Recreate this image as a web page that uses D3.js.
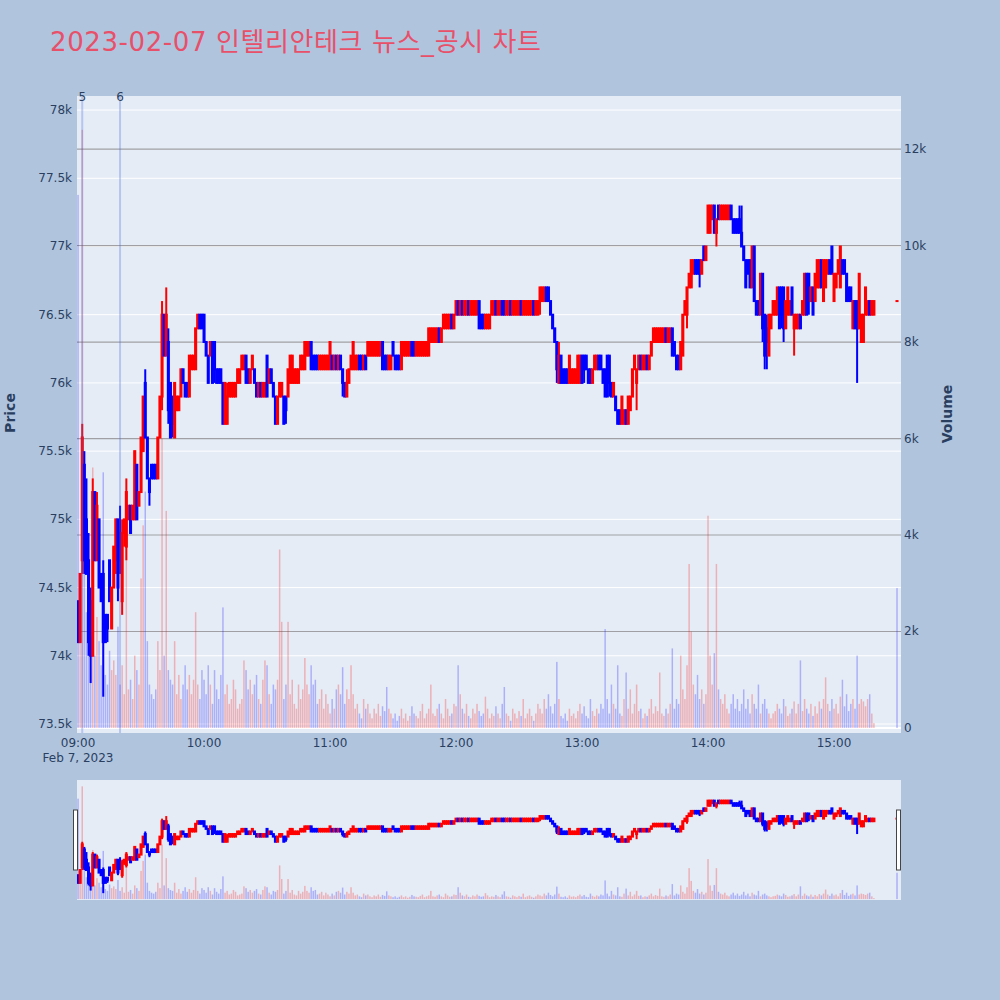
<!DOCTYPE html>
<html><head><meta charset="utf-8">
<script src="https://cdn.jsdelivr.net/npm/d3@7"></script>
<style>
body{margin:0;background:#B0C4DE;}
text{font-family:"DejaVu Sans","Noto Sans CJK KR",sans-serif;}
</style></head>
<body><svg id="chart" width="1000" height="1000"></svg>
<script>
const titleText = "2023-02-07 인텔리안테크 뉴스_공시 차트";
const dateLabel = "Feb 7, 2023";
const priceTicks = [73500,74000,74500,75000,75500,76000,76500,77000,77500,78000];
const volumeTicks = [0,2000,4000,6000,8000,10000,12000];
const hourTicks = ["09:00","10:00","11:00","12:00","13:00","14:00","15:00"];
const newsTimes = ["09:02","09:20"];
const newsLabels = ["5","6"];

const times = [
"09:00","09:01","09:02","09:03","09:04","09:05","09:06","09:07","09:08","09:09","09:10","09:11","09:12","09:13","09:14","09:15","09:16","09:17","09:18","09:19","09:20","09:21","09:22","09:23","09:24","09:25","09:26","09:27","09:28","09:29","09:30","09:31","09:32","09:33","09:34","09:35","09:36","09:37","09:38","09:39","09:40","09:41","09:42","09:43","09:44","09:45","09:46","09:47","09:48","09:49","09:50","09:51","09:52","09:53","09:54","09:55","09:56","09:57","09:58","09:59",
"10:00","10:01","10:02","10:03","10:04","10:05","10:06","10:07","10:08","10:09","10:10","10:11","10:12","10:13","10:14","10:15","10:16","10:17","10:18","10:19","10:20","10:21","10:22","10:23","10:24","10:25","10:26","10:27","10:28","10:29","10:30","10:31","10:32","10:33","10:34","10:35","10:36","10:37","10:38","10:39","10:40","10:41","10:42","10:43","10:44","10:45","10:46","10:47","10:48","10:49","10:50","10:51","10:52","10:53","10:54","10:55","10:56","10:57","10:58","10:59",
"11:00","11:01","11:02","11:03","11:04","11:05","11:06","11:07","11:08","11:09","11:10","11:11","11:12","11:13","11:14","11:15","11:16","11:17","11:18","11:19","11:20","11:21","11:22","11:23","11:24","11:25","11:26","11:27","11:28","11:29","11:30","11:31","11:32","11:33","11:34","11:35","11:36","11:37","11:38","11:39","11:40","11:41","11:42","11:43","11:44","11:45","11:46","11:47","11:48","11:49","11:50","11:51","11:52","11:53","11:54","11:55","11:56","11:57","11:58","11:59",
"12:00","12:01","12:02","12:03","12:04","12:05","12:06","12:07","12:08","12:09","12:10","12:11","12:12","12:13","12:14","12:15","12:16","12:17","12:18","12:19","12:20","12:21","12:22","12:23","12:24","12:25","12:26","12:27","12:28","12:29","12:30","12:31","12:32","12:33","12:34","12:35","12:36","12:37","12:38","12:39","12:40","12:41","12:42","12:43","12:44","12:45","12:46","12:47","12:48","12:49","12:50","12:51","12:52","12:53","12:54","12:55","12:56","12:57","12:58","12:59",
"13:00","13:01","13:02","13:03","13:04","13:05","13:06","13:07","13:08","13:09","13:10","13:11","13:12","13:13","13:14","13:15","13:16","13:17","13:18","13:19","13:20","13:21","13:22","13:23","13:24","13:25","13:26","13:27","13:28","13:29","13:30","13:31","13:32","13:33","13:34","13:35","13:36","13:37","13:38","13:39","13:40","13:41","13:42","13:43","13:44","13:45","13:46","13:47","13:48","13:49","13:50","13:51","13:52","13:53","13:54","13:55","13:56","13:57","13:58","13:59",
"14:00","14:01","14:02","14:03","14:04","14:05","14:06","14:07","14:08","14:09","14:10","14:11","14:12","14:13","14:14","14:15","14:16","14:17","14:18","14:19","14:20","14:21","14:22","14:23","14:24","14:25","14:26","14:27","14:28","14:29","14:30","14:31","14:32","14:33","14:34","14:35","14:36","14:37","14:38","14:39","14:40","14:41","14:42","14:43","14:44","14:45","14:46","14:47","14:48","14:49","14:50","14:51","14:52","14:53","14:54","14:55","14:56","14:57","14:58","14:59",
"15:00","15:01","15:02","15:03","15:04","15:05","15:06","15:07","15:08","15:09","15:10","15:11","15:12","15:13","15:14","15:15","15:16","15:17","15:18","15:19","15:30"];

const open = [
74400,74100,74700,75400,75000,74700,74400,74000,75200,74700, 75000,74600,74600,74300,74300,74700,74200,74500,74700,75000,
74900,74400,74900,74800,75000,75100,75000,75000,75400,75100, 75200,75500,76000,75600,75300,75400,75400,75400,75300,75600,
75900,76500,76200,76300,76000,75900,75600,75800,75800,75900, 76100,76000,76000,75900,76100,76100,76100,76400,76500,76500,
76500,76300,76200,76200,76300,76300,76100,76100,76100,76000, 75700,75700,75900,75900,75900,75900,76000,76000,76100,76100,
76200,76100,76000,76100,76100,76000,75900,76000,75900,75900, 76200,76000,76100,76000,75900,75700,75900,75900,75900,75900,
75900,76000,76000,76000,76000,76000,76100,76100,76100,76200, 76200,76300,76200,76200,76200,76100,76100,76100,76100,76100,
76100,76200,76100,76200,76100,76200,76100,76000,75900,76000, 76100,76100,76100,76100,76200,76200,76100,76200,76200,76200,
76200,76200,76200,76200,76200,76300,76200,76200,76100,76100, 76300,76200,76200,76200,76100,76200,76200,76200,76200,76300,
76300,76200,76200,76200,76200,76200,76200,76200,76300,76300, 76300,76300,76400,76300,76400,76400,76400,76400,76500,76400,
76500,76600,76500,76600,76500,76500,76600,76500,76500,76500, 76500,76600,76500,76500,76400,76400,76400,76500,76500,76600,
76500,76500,76600,76600,76500,76500,76600,76500,76500,76500, 76500,76600,76500,76500,76500,76500,76500,76600,76500,76500,
76600,76600,76600,76700,76700,76600,76500,76400,76300,76000, 76200,76100,76100,76100,76000,76000,76000,76000,76000,76000,
76200,76200,76200,76100,76100,76000,76100,76100,76200,76200, 76100,76100,76200,76200,76000,75900,75900,75800,75800,75700,
75700,75800,75700,75800,75900,76100,76000,76100,76200,76100, 76100,76200,76100,76200,76300,76300,76300,76300,76300,76300,
76400,76300,76300,76400,76300,76200,76200,76100,76200,76500, 76500,76700,76700,76800,76900,76900,76900,76800,77000,76900,
77100,77100,77200,77300,77100,77300,77200,77200,77200,77200, 77200,77300,77200,77200,77200,77200,77100,77000,76900,76900,
76900,76700,77000,76600,76600,76500,76800,76500,76400,76200, 76400,76500,76500,76500,76700,76700,76700,76400,76500,76500,
76700,76400,76400,76400,76500,76500,76500,76800,76800,76600, 76700,76600,76700,76700,76900,76600,76700,76800,76900,77000,
76600,76700,76800,76700,76900,76900,76800,76700,76700,76400, 76600,76600,76400,76300,76300,76500,76500,76600,76500,76500,
76600];

const high = [
74400,74600,75700,75500,75300,74900,74500,75300,75200,75200, 75000,74600,74700,74300,74300,74700,74500,74800,75000,75000,
75100,75000,75000,75300,75100,75100,75100,75500,75400,75200, 75600,75900,76100,75600,75300,75400,75400,75400,75600,75900,
76600,76500,76700,76400,76000,75900,76000,75900,75900,76100, 76100,76000,76000,76200,76200,76200,76400,76500,76500,76500,
76500,76300,76200,76300,76300,76300,76100,76100,76100,76000, 76000,76000,76000,76000,76000,76000,76100,76100,76200,76200,
76200,76100,76100,76200,76100,76000,76000,76000,76000,76000, 76200,76100,76100,76000,75900,75900,76000,76000,75900,75900,
76100,76200,76200,76100,76100,76100,76200,76200,76300,76300, 76300,76300,76200,76200,76200,76200,76200,76200,76200,76200,
76300,76200,76200,76200,76200,76200,76100,76000,76100,76100, 76200,76300,76200,76200,76200,76200,76200,76200,76300,76300,
76300,76300,76300,76300,76300,76300,76200,76200,76200,76200, 76300,76200,76200,76200,76300,76300,76300,76300,76300,76300,
76300,76300,76300,76300,76300,76300,76300,76400,76400,76400, 76400,76400,76400,76400,76500,76500,76500,76500,76500,76500,
76600,76600,76600,76600,76600,76600,76600,76600,76600,76600, 76600,76600,76500,76500,76500,76500,76500,76600,76600,76600,
76600,76600,76600,76600,76600,76600,76600,76600,76600,76600, 76600,76600,76600,76600,76600,76600,76600,76600,76600,76600,
76700,76700,76700,76700,76700,76600,76500,76400,76300,76300, 76200,76100,76100,76100,76200,76100,76100,76100,76200,76200,
76200,76200,76200,76100,76100,76100,76200,76200,76200,76200, 76100,76100,76200,76200,76000,76000,75900,75800,75800,75900,
75800,75800,75900,75900,76100,76200,76100,76200,76200,76200, 76200,76200,76200,76300,76400,76400,76400,76400,76400,76400,
76400,76400,76400,76400,76300,76200,76200,76300,76500,76600, 76700,76800,76900,76900,76900,76900,76900,76900,77000,77000,
77300,77300,77300,77300,77200,77300,77300,77300,77300,77300, 77300,77300,77200,77200,77200,77300,77300,77000,76900,76900,
76900,77000,77000,76600,76600,76800,76800,76500,76500,76500, 76500,76600,76600,76700,76700,76700,76700,76600,76700,76600,
76700,76500,76500,76500,76500,76600,76800,76800,76800,76700, 76700,76800,76900,76900,76900,76900,76900,76900,76900,77000,
76800,76800,76900,77000,76900,76900,76800,76700,76700,76600, 76600,76600,76800,76500,76500,76700,76600,76600,76600,76600,
76600];

const low = [
74100,74100,74600,74600,74600,74000,73800,74000,74700,74700, 74500,74400,73700,74100,74100,74400,74200,74500,74600,74400,
74600,74300,74800,74700,75000,74900,75000,75000,75000,75100, 75200,75500,75600,75300,75100,75300,75300,75300,75300,75600,
75800,76200,76200,75700,75600,75600,75600,75800,75800,75900, 76000,75900,75900,75900,76100,76100,76100,76400,76400,76400,
76300,76200,76000,76200,76000,76000,76000,76000,76000,75700, 75700,75700,75900,75900,75900,75900,76000,76000,76100,76100,
76000,76000,76000,76100,76000,75900,75900,75900,75900,75900, 75900,76000,76000,75900,75700,75700,75900,75900,75700,75700,
75900,76000,76000,76000,76000,76000,76100,76100,76100,76200, 76200,76100,76100,76100,76100,76100,76100,76100,76100,76100,
76100,76100,76100,76100,76100,76100,75900,75900,75900,76000, 76100,76100,76100,76100,76100,76100,76100,76100,76200,76200,
76200,76200,76200,76200,76200,76100,76100,76100,76100,76100, 76200,76100,76100,76100,76100,76200,76200,76200,76200,76200,
76200,76200,76200,76200,76200,76200,76200,76200,76300,76300, 76300,76300,76300,76300,76400,76400,76400,76400,76400,76400,
76500,76500,76500,76500,76500,76500,76500,76500,76500,76500, 76500,76400,76400,76400,76400,76400,76400,76500,76500,76500,
76500,76500,76500,76500,76500,76500,76500,76500,76500,76500, 76500,76500,76500,76500,76500,76500,76500,76500,76500,76500,
76500,76600,76600,76600,76600,76500,76400,76300,76000,76000, 76000,76000,76000,76000,76000,76000,76000,76000,76000,76000,
76000,76000,76100,76000,76000,76000,76100,76100,76100,76100, 76000,75900,75900,75900,75900,75900,75800,75700,75700,75700,
75700,75700,75700,75800,75900,76100,75800,76100,76100,76100, 76100,76100,76100,76200,76300,76300,76300,76300,76300,76300,
76300,76300,76300,76200,76200,76100,76100,76100,76200,76500, 76400,76700,76700,76800,76800,76800,76700,76800,76900,76900,
77100,77100,77200,77100,77000,77200,77200,77200,77200,77200, 77200,77200,77100,77100,77100,77100,77000,76900,76700,76800,
76700,76700,76600,76500,76500,76500,76300,76100,76100,76200, 76400,76500,76500,76500,76400,76400,76300,76400,76500,76500,
76500,76200,76400,76400,76400,76500,76500,76500,76500,76600, 76500,76600,76700,76700,76700,76600,76700,76800,76800,76800,
76600,76700,76800,76700,76800,76800,76600,76600,76600,76400, 76400,76000,76400,76300,76300,76500,76500,76500,76500,76500,
76600];

const close = [
74100,74600,75600,74700,74600,74100,74000,75200,74700,75100, 74500,74400,74100,74100,74200,74400,74500,74800,75000,74500,
74700,74900,75000,75200,75100,74900,75100,75500,75000,75200, 75600,75900,75600,75300,75200,75300,75300,75300,75600,75900,
76500,76200,76500,75800,75600,75700,76000,75900,75900,76100, 76000,75900,75900,76200,76200,76200,76400,76500,76400,76400,
76300,76200,76000,76300,76000,76100,76000,76000,76000,75700, 76000,75900,76000,76000,76000,76000,76100,76100,76200,76200,
76000,76000,76100,76200,76000,75900,76000,75900,76000,76000, 75900,76100,76000,75900,75700,75900,76000,76000,75700,75800,
76100,76200,76200,76100,76100,76100,76200,76200,76300,76300, 76300,76100,76100,76100,76100,76200,76200,76200,76200,76200,
76300,76100,76200,76100,76200,76100,76000,75900,76000,76100, 76200,76300,76200,76200,76100,76100,76200,76100,76300,76300,
76300,76300,76300,76300,76300,76100,76100,76100,76200,76200, 76200,76100,76100,76100,76300,76300,76300,76300,76300,76200,
76200,76300,76300,76300,76300,76300,76300,76400,76400,76400, 76400,76400,76300,76400,76500,76500,76500,76500,76400,76500,
76600,76500,76600,76500,76600,76600,76500,76600,76600,76600, 76600,76400,76400,76400,76500,76500,76500,76600,76600,76500,
76600,76600,76500,76500,76600,76600,76500,76600,76600,76600, 76600,76500,76600,76600,76600,76600,76600,76500,76600,76600,
76700,76700,76700,76600,76600,76500,76400,76300,76100,76200, 76000,76000,76000,76000,76200,76100,76100,76100,76200,76200,
76000,76100,76100,76000,76000,76100,76200,76200,76100,76100, 76000,75900,75900,76000,75900,76000,75800,75700,75700,75900,
75800,75700,75900,75900,76100,76200,76100,76200,76100,76200, 76200,76100,76200,76300,76400,76400,76400,76400,76400,76400,
76300,76400,76400,76200,76200,76100,76100,76300,76500,76600, 76700,76800,76900,76900,76800,76800,76800,76900,76900,77000,
77300,77300,77300,77100,77200,77200,77300,77300,77300,77300, 77300,77200,77100,77100,77100,77100,77000,76900,76700,76800,
76700,77000,76600,76500,76500,76800,76400,76200,76300,76500, 76500,76600,76600,76700,76400,76500,76400,76600,76700,76600,
76500,76500,76500,76500,76400,76600,76800,76500,76600,76700, 76500,76800,76900,76900,76700,76900,76900,76900,76800,76800,
76800,76800,76900,77000,76800,76800,76600,76600,76600,76600, 76400,76400,76800,76500,76500,76700,76600,76500,76600,76600,
76600];

const volume = [
11050,3000,12400,3500,2400,2800,1900,5400,1500,2300, 1800,1300,5300,1100,900,1600,1200,1400,1100,2100,
900,1300,700,4400,800,1000,600,1500,1200,900, 3100,4200,4900,1800,900,700,600,800,1800,1200,
6000,1500,4500,1200,1000,900,1800,700,1100,600, 900,1300,800,1100,700,1000,2400,900,600,1200,
1000,700,1300,900,500,1200,800,600,1100,2500, 700,900,500,600,1000,800,400,500,600,1400,
1200,800,1000,700,900,1100,600,500,1000,1400, 1300,700,500,900,800,1000,3700,2200,600,900,
2200,700,1000,500,400,900,600,800,1450,900, 700,1300,900,1000,500,600,800,400,700,500,
300,600,400,800,900,700,1260,500,800,600, 1300,700,400,500,300,200,600,400,500,300,
200,400,300,500,250,450,350,850,400,300, 200,300,150,250,400,200,300,150,250,450,
300,250,200,350,500,200,300,400,900,300, 250,400,500,300,200,600,400,250,300,500,
450,1300,700,400,300,500,250,200,400,300, 500,350,250,300,650,400,200,300,250,450,
300,200,500,850,300,250,150,400,300,200, 350,250,600,200,300,400,250,150,300,500,
400,300,600,400,700,450,300,500,1370,600, 250,200,300,150,400,250,300,200,350,500,
300,450,250,200,600,350,250,400,300,500, 400,2050,600,300,900,500,400,1300,300,250,
600,1150,400,800,300,500,900,350,400,200, 300,250,400,600,300,450,350,1150,300,250,
400,300,500,1650,400,600,500,1500,800,600, 1300,3400,2000,900,700,1100,600,800,500,700,
4400,1500,900,1550,3400,800,600,500,700,400, 300,500,700,400,600,350,500,800,400,600,
300,700,500,400,900,300,500,600,400,300, 200,300,350,500,400,300,600,450,250,300,
400,550,300,500,1400,350,600,400,300,500, 250,450,300,550,400,600,1050,500,350,600,
400,500,300,650,1000,450,700,350,500,600, 400,1500,500,600,550,450,600,700,300,100,
2900];

const UP = "#ff0000", DOWN = "#0000ff", AXIS = "#2a3f5f", PLOTBG = "#E5ECF6";
const svg = d3.select("#chart");
svg.append("rect").attr("width",1000).attr("height",1000).attr("fill","#B0C4DE");

svg.append("text").attr("x",50).attr("y",51).attr("font-size",26)
  .attr("textLength",491).attr("lengthAdjust","spacing")
  .attr("fill","#E8506A").text(titleText);

const parseT = d3.timeParse("%Y-%m-%d %H:%M");
const toDate = t => parseT("2023-02-07 " + t);
const data = times.map((t,i)=>({t:toDate(t),o:open[i],h:high[i],l:low[i],c:close[i],v:volume[i],
  up: close[i] >= open[i],
  vup: close[i] > open[i] || (close[i] === open[i] && (i === 0 || close[i] > close[i-1]))}));

const P = {l:77,r:901,t:96,b:733};
const S = {t:780,b:900};
const parseS = d3.timeParse("%Y-%m-%d %H:%M:%S");
const x = d3.scaleTime()
  .domain([parseS("2023-02-07 08:59:30"), parseS("2023-02-07 15:31:54")])
  .range([P.l,P.r]);
const yP = d3.scaleLinear().domain([73434,78103]).range([P.b,P.t]);
const yV = d3.scaleLinear().domain([-104,13100]).range([P.b,P.t]);
const yPs = yP.copy().range([S.b,S.t]);
const yVs = yV.copy().range([S.b,S.t]);

const defs = svg.append("defs");
defs.append("clipPath").attr("id","cp").append("rect")
  .attr("x",P.l).attr("y",P.t).attr("width",P.r-P.l).attr("height",P.b-P.t);
defs.append("clipPath").attr("id","cs").append("rect")
  .attr("x",P.l).attr("y",S.t).attr("width",P.r-P.l).attr("height",S.b-S.t);

svg.append("rect").attr("x",P.l).attr("y",P.t).attr("width",P.r-P.l).attr("height",P.b-P.t).attr("fill",PLOTBG);

const g = svg.append("g");
g.selectAll(".gp").data(priceTicks).join("line")
  .attr("x1",P.l).attr("x2",P.r).attr("y1",d=>yP(d)).attr("y2",d=>yP(d))
  .attr("stroke","#fff").attr("stroke-width",1);
g.selectAll(".gv").data(volumeTicks.filter(d=>d>0)).join("line")
  .attr("x1",P.l).attr("x2",P.r).attr("y1",d=>yV(d)).attr("y2",d=>yV(d))
  .attr("stroke","#a0a0a4").attr("stroke-width",1.2);
g.append("line").attr("x1",P.l).attr("x2",P.r).attr("y1",yV(0)).attr("y2",yV(0))
  .attr("stroke","#fff").attr("stroke-width",2);

const candleW = 1.05;
function drawCandles(sel, ys, clip){
  const cg = sel.append("g").attr("clip-path",`url(#${clip})`);
  const c = cg.selectAll("g.c").data(data).join("g")
    .attr("stroke",d=>d.up?UP:DOWN).attr("fill",d=>d.up?UP:DOWN).attr("stroke-width",2);
  c.append("line")
    .attr("x1",d=>x(d.t)).attr("x2",d=>x(d.t))
    .attr("y1",d=>ys(Math.max(d.h,d.o,d.c))).attr("y2",d=>ys(Math.min(d.l,d.o,d.c)));
  c.append("rect")
    .attr("x",d=>x(d.t)-candleW/2).attr("width",candleW)
    .attr("y",d=>ys(Math.max(d.o,d.c)))
    .attr("height",d=>Math.max(0.01, ys(Math.min(d.o,d.c))-ys(Math.max(d.o,d.c))));
}
function drawVolume(sel, ys, clip){
  const vg = sel.append("g").attr("clip-path",`url(#${clip})`);
  vg.selectAll("rect").data(data).join("rect")
    .attr("x",d=>x(d.t)-0.75).attr("width",1.5)
    .attr("y",d=>ys(d.v)).attr("height",d=>ys(0)-ys(d.v))
    .attr("fill",d=>d.vup?UP:DOWN).attr("fill-opacity",0.25);
}
drawCandles(svg, yP, "cp");
drawVolume(svg, yV, "cp");

const ng = svg.append("g");
newsTimes.forEach((t,i)=>{
  const xx = x(toDate(t));
  ng.append("line").attr("x1",xx).attr("x2",xx).attr("y1",P.t).attr("y2",P.b)
    .attr("stroke","rgb(65,105,225)").attr("stroke-opacity",0.3).attr("stroke-width",2);
  ng.append("text").attr("x",xx).attr("y",101).attr("text-anchor","middle")
    .attr("font-size",12).attr("fill",AXIS).text(newsLabels[i]);
});

const fmt = d3.format("~s");
svg.append("g").selectAll("text").data(priceTicks).join("text")
  .attr("x",72).attr("y",d=>yP(d)+4).attr("text-anchor","end")
  .attr("font-size",12).attr("fill",AXIS).text(d=>fmt(d));
svg.append("g").selectAll("text").data(volumeTicks).join("text")
  .attr("x",904).attr("y",d=>yV(d)+4).attr("text-anchor","start")
  .attr("font-size",12).attr("fill",AXIS).text(d=>fmt(d));
svg.append("g").selectAll("text").data(hourTicks).join("text")
  .attr("x",d=>x(toDate(d))).attr("y",747).attr("text-anchor","middle")
  .attr("font-size",12).attr("fill",AXIS).text(d=>d);
svg.append("text").attr("x",x(toDate(hourTicks[0]))).attr("y",762).attr("text-anchor","middle")
  .attr("font-size",12).attr("fill",AXIS).text(dateLabel);

svg.append("text").attr("transform","translate(15,413) rotate(-90)").attr("text-anchor","middle")
  .attr("font-size",14).attr("font-weight","bold").attr("fill",AXIS).text("Price");
svg.append("text").attr("transform","translate(952,414) rotate(-90)").attr("text-anchor","middle")
  .attr("font-size",14).attr("font-weight","bold").attr("fill",AXIS).text("Volume");

svg.append("rect").attr("x",P.l).attr("y",S.t).attr("width",P.r-P.l).attr("height",S.b-S.t).attr("fill",PLOTBG);
drawCandles(svg, yPs, "cs");
drawVolume(svg, yVs, "cs");
svg.append("rect").attr("x",73.5).attr("y",810).attr("width",4).attr("height",60)
  .attr("fill","#fff").attr("stroke","#444").attr("stroke-width",1);
svg.append("rect").attr("x",896.5).attr("y",810).attr("width",4).attr("height",60)
  .attr("fill","#fff").attr("stroke","#444").attr("stroke-width",1);
</script></body></html>
